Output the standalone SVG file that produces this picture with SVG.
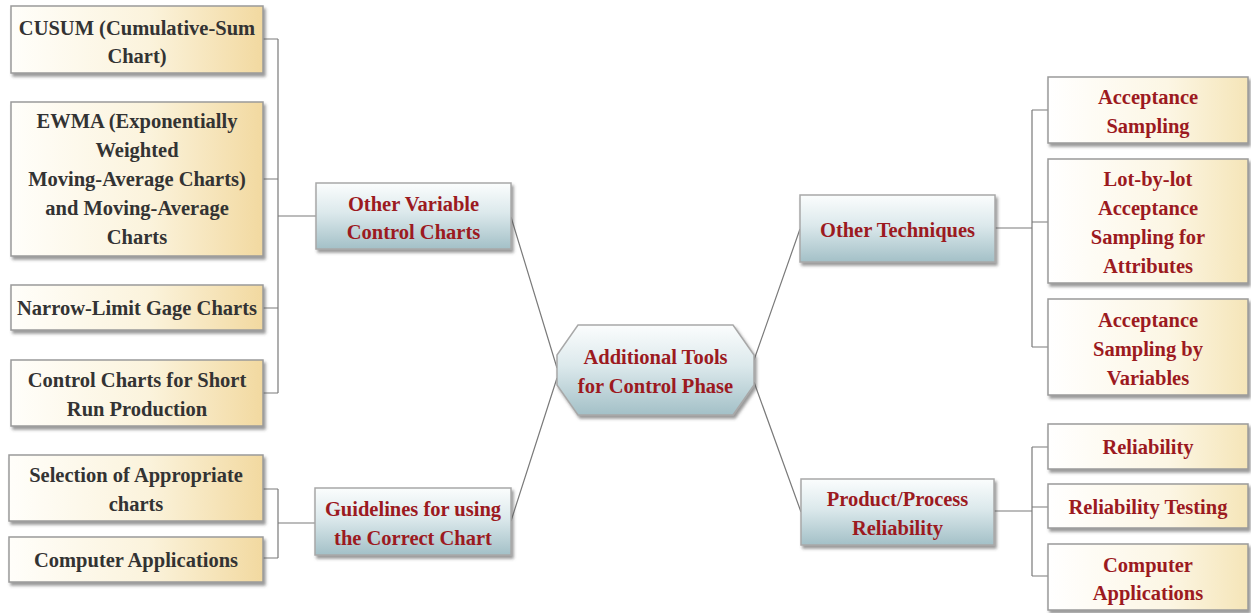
<svg xmlns="http://www.w3.org/2000/svg" width="1251" height="613" viewBox="0 0 1251 613">
<defs>
<linearGradient id="gBranch" x1="0" y1="0" x2="0" y2="1">
<stop offset="0" stop-color="#fbfdfd"/>
<stop offset="0.45" stop-color="#dce9ec"/>
<stop offset="1" stop-color="#a3c0c7"/>
</linearGradient>
<linearGradient id="gLeafL" x1="0" y1="0" x2="1" y2="0">
<stop offset="0" stop-color="#fffefa"/>
<stop offset="0.55" stop-color="#fbf3dc"/>
<stop offset="1" stop-color="#f2d9a0"/>
</linearGradient>
<linearGradient id="gLeafR" x1="0" y1="0" x2="1" y2="0">
<stop offset="0" stop-color="#ffffff"/>
<stop offset="0.6" stop-color="#fcf6e4"/>
<stop offset="1" stop-color="#f5e5b8"/>
</linearGradient>
<filter id="sh" x="-10%" y="-10%" width="125%" height="135%">
<feDropShadow dx="2" dy="3" stdDeviation="1.5" flood-color="#555" flood-opacity="0.6"/>
</filter>
</defs>
<style>
.branch{fill:url(#gBranch);stroke:#a8a8a8;stroke-width:1.5;filter:url(#sh)}
.leafL{fill:url(#gLeafL);stroke:#9a9a9a;stroke-width:1.5;filter:url(#sh)}
.leafR{fill:url(#gLeafR);stroke:#9a9a9a;stroke-width:1.5;filter:url(#sh)}
text{font-family:"Liberation Serif","Times New Roman",serif;font-weight:bold;font-size:20.5px;text-anchor:middle}
.red{fill:#9c1a1f}
.dark{fill:#333333}
.conn{fill:none;stroke:#7a7a7a;stroke-width:1.2}
</style>
<g id="connectors">
<path class="conn" d="M263,39 H278 M263,179 H278 M263,308 H278 M263,393 H278 M278,39 V393 M278,216 H316"/>
<path class="conn" d="M263,489 H278 M263,558 H278 M278,489 V558 M278,523 H315"/>
<path class="conn" d="M511,217 L557,368 M557,378 L511,521"/>
<path class="conn" d="M754,360 L800,229 M754,382 L801,512"/>
<path class="conn" d="M995,228 H1032 M1032,110 V347 M1032,110 H1048 M1032,222 H1048 M1032,347 H1048"/>
<path class="conn" d="M994,511 H1032 M1032,447 V576 M1032,447 H1048 M1032,507 H1048 M1032,576 H1048"/>
</g>
<g id="central">
<polygon class="branch" points="578,325 733,325 754,355 754,385 733,415 578,415 557,385 557,355"/>
<text class="red" x="655.5" y="364">Additional Tools</text>
<text class="red" x="655.5" y="393">for Control Phase</text>
</g>
<g id="other-variable">
<rect class="branch" x="316" y="183" width="195" height="66"/>
<text class="red" x="413.5" y="211">Other Variable</text>
<text class="red" x="413.5" y="239">Control Charts</text>
</g>
<g id="guidelines">
<rect class="branch" x="315" y="488" width="196" height="67"/>
<text class="red" x="413" y="516">Guidelines for using</text>
<text class="red" x="413" y="545">the Correct Chart</text>
</g>
<g id="other-techniques">
<rect class="branch" x="800" y="195" width="195" height="67"/>
<text class="red" x="897.5" y="237">Other Techniques</text>
</g>
<g id="product-process">
<rect class="branch" x="801" y="479" width="193" height="66"/>
<text class="red" x="897.5" y="506">Product/Process</text>
<text class="red" x="897.5" y="535">Reliability</text>
</g>
<g id="cusum">
<rect class="leafL" x="11" y="6" width="252" height="67"/>
<text class="dark" x="137" y="35">CUSUM (Cumulative-Sum</text>
<text class="dark" x="137" y="63">Chart)</text>
</g>
<g id="ewma">
<rect class="leafL" x="11" y="102" width="252" height="154"/>
<text class="dark" x="137" y="128">EWMA (Exponentially</text>
<text class="dark" x="137" y="157">Weighted</text>
<text class="dark" x="137" y="186">Moving-Average Charts)</text>
<text class="dark" x="137" y="215">and Moving-Average</text>
<text class="dark" x="137" y="244">Charts</text>
</g>
<g id="narrow-limit">
<rect class="leafL" x="11" y="285" width="252" height="45"/>
<text class="dark" x="137" y="315">Narrow-Limit Gage Charts</text>
</g>
<g id="short-run">
<rect class="leafL" x="11" y="360" width="252" height="66"/>
<text class="dark" x="137" y="387">Control Charts for Short</text>
<text class="dark" x="137" y="416">Run Production</text>
</g>
<g id="selection">
<rect class="leafL" x="9" y="455" width="254" height="66"/>
<text class="dark" x="136" y="482">Selection of Appropriate</text>
<text class="dark" x="136" y="511">charts</text>
</g>
<g id="computer-left">
<rect class="leafL" x="9" y="537" width="254" height="45"/>
<text class="dark" x="136" y="567">Computer Applications</text>
</g>
<g id="acceptance-sampling">
<rect class="leafR" x="1048" y="77" width="200" height="66"/>
<text class="red" x="1148" y="104">Acceptance</text>
<text class="red" x="1148" y="133">Sampling</text>
</g>
<g id="lot-by-lot">
<rect class="leafR" x="1048" y="159" width="200" height="124"/>
<text class="red" x="1148" y="186">Lot-by-lot</text>
<text class="red" x="1148" y="215">Acceptance</text>
<text class="red" x="1148" y="244">Sampling for</text>
<text class="red" x="1148" y="273">Attributes</text>
</g>
<g id="acceptance-variables">
<rect class="leafR" x="1048" y="299" width="200" height="96"/>
<text class="red" x="1148" y="327">Acceptance</text>
<text class="red" x="1148" y="356">Sampling by</text>
<text class="red" x="1148" y="385">Variables</text>
</g>
<g id="reliability">
<rect class="leafR" x="1048" y="424" width="200" height="45"/>
<text class="red" x="1148" y="454">Reliability</text>
</g>
<g id="reliability-testing">
<rect class="leafR" x="1048" y="484" width="200" height="44"/>
<text class="red" x="1148" y="514">Reliability Testing</text>
</g>
<g id="computer-right">
<rect class="leafR" x="1048" y="544" width="200" height="66"/>
<text class="red" x="1148" y="572">Computer</text>
<text class="red" x="1148" y="600">Applications</text>
</g>
</svg>
